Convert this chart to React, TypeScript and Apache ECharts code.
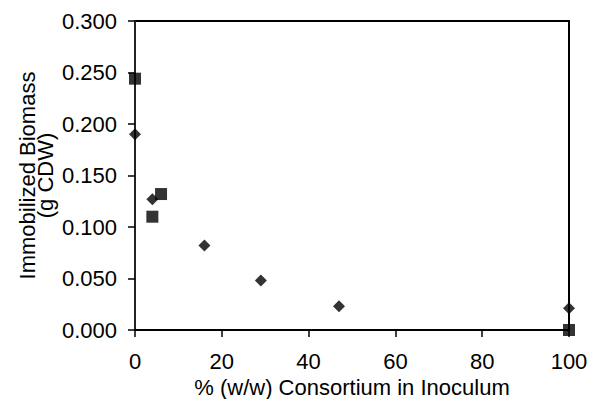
import React, { useEffect, useRef } from "react";
import * as echarts from "echarts";

const xTicks = [0, 20, 40, 60, 80, 100];
const yTicks = ["0.000", "0.050", "0.100", "0.150", "0.200", "0.250", "0.300"];

const diamondX = [0, 4, 16, 29, 47, 100];
const diamondY = [0.19, 0.127, 0.082, 0.048, 0.023, 0.021];

const squareX = [0, 4, 6, 100];
const squareY = [0.244, 0.11, 0.132, 0.0];

const FONT = "'Liberation Sans', Arial, sans-serif";

export default function App() {
  const ref = useRef<HTMLDivElement>(null);
  useEffect(() => {
    if (!ref.current) return;
    const chart = echarts.init(ref.current, null, { renderer: "svg" });
    chart.setOption({
      animation: false,
      backgroundColor: "#fff",
      grid: {
        left: 135,
        right: 20,
        top: 21,
        bottom: 69,
        containLabel: false,
        outerBoundsMode: "none",
        show: true,
        borderColor: "#000",
        borderWidth: 2,
      },
      xAxis: {
        type: "value",
        min: xTicks[0],
        max: xTicks[xTicks.length - 1],
        interval: 20,
        name: "% (w/w) Consortium in Inoculum",
        nameLocation: "middle",
        nameGap: 46,
        nameMoveOverlap: false,
        nameTextStyle: { fontFamily: FONT, fontSize: 22, color: "#000" },
        axisLine: { show: true, lineStyle: { color: "#000", width: 2 } },
        axisTick: { show: true, inside: false, length: 7, lineStyle: { color: "#000", width: 1.5 } },
        axisLabel: { margin: 20, fontFamily: FONT, fontSize: 22, color: "#000" },
        splitLine: { show: false },
      },
      yAxis: {
        type: "value",
        min: 0,
        max: 0.3,
        interval: 0.05,
        name: "Immobilized Biomass\n(g CDW)",
        nameLocation: "middle",
        nameRotate: 90,
        nameGap: 81,
        nameMoveOverlap: false,
        nameTextStyle: { fontFamily: FONT, fontSize: 22, color: "#000", lineHeight: 18 },
        axisLine: { show: true, lineStyle: { color: "#222", width: 2 } },
        axisTick: { show: true, inside: false, length: 7, lineStyle: { color: "#000", width: 1.5 } },
        axisLabel: {
          margin: 18,
          fontFamily: FONT,
          fontSize: 22,
          color: "#000",
          formatter: (v: number) => yTicks[Math.round(v / 0.05)] ?? v.toFixed(3),
        },
        splitLine: { show: false },
      },
      series: [
        {
          type: "scatter",
          symbol: "diamond",
          symbolSize: 12,
          clip: false,
          itemStyle: { color: "#000" },
          data: diamondX.map((x, i) => [x, diamondY[i]]),
        },
        {
          type: "scatter",
          symbol: "rect",
          symbolSize: 12,
          clip: false,
          itemStyle: { color: "#000" },
          data: squareX.map((x, i) => [x, squareY[i]]),
        },
      ],
    });
    return () => chart.dispose();
  }, []);
  return <div ref={ref} style={{ width: 589, height: 399, position: "absolute", left: 0, top: 0 }} />;
}
